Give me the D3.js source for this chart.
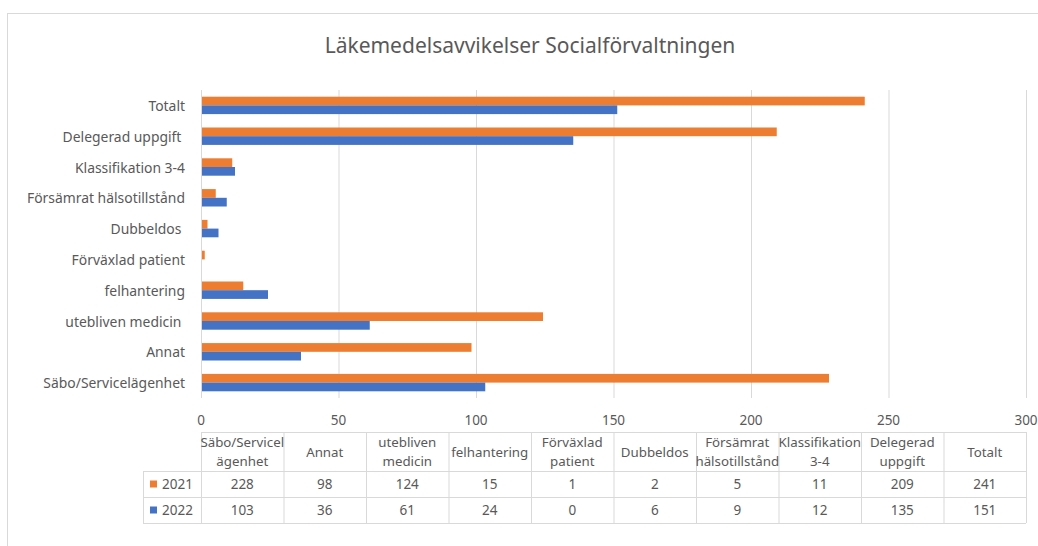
<!DOCTYPE html>
<html>
<head>
<meta charset="utf-8">
<script src="https://cdn.jsdelivr.net/npm/d3@7"></script>
<style>
  body { margin: 0; background: #fff; }
  text { font-family: "Noto Sans", sans-serif; fill: #595959; }
</style>
</head>
<body>
<svg width="1038" height="546"></svg>
<script>
const categories = ['Säbo/Servicelägenhet', 'Annat', 'utebliven medicin ', 'felhantering', 'Förväxlad patient',
  'Dubbeldos ', 'Försämrat hälsotillstånd', 'Klassifikation 3-4', 'Delegerad uppgift ', 'Totalt'];
const headerLines = [['Säbo/Servicel', 'ägenhet'], ['Annat'], ['utebliven', 'medicin'], ['felhantering'],
  ['Förväxlad', 'patient'], ['Dubbeldos'], ['Försämrat', 'hälsotillstånd'], ['Klassifikation', '3-4'],
  ['Delegerad', 'uppgift'], ['Totalt']];
const years = ['2021', '2022'];
const values2021 = [228, 98, 124, 15, 1, 2, 5, 11, 209, 241];
const values2022 = [103, 36, 61, 24, 0, 6, 9, 12, 135, 151];
const xTicks = [0, 50, 100, 150, 200, 250, 300];
const colors = { '2021': '#ED7D31', '2022': '#4472C4' };

const series = [
  { year: '2021', values: values2021 },
  { year: '2022', values: values2022 }
];

const svg = d3.select('svg');
const gridColor = '#d9d9d9';

// chart frame
svg.append('rect')
  .attr('x', 7.5).attr('y', 13.5)
  .attr('width', 1100).attr('height', 600)
  .attr('fill', 'none').attr('stroke', gridColor);

svg.append('text')
  .attr('x', 530).attr('y', 45)
  .attr('text-anchor', 'middle').attr('dominant-baseline', 'central')
  .attr('font-size', 21)
  .text('Läkemedelsavvikelser Socialförvaltningen');

const x = d3.scaleLinear().domain([0, 300]).range([201, 1026]);
const y = d3.scaleBand().domain(categories.slice().reverse()).range([90, 398]);
const ySub = d3.scaleBand().domain(years).range([0, y.bandwidth()]).paddingOuter(0.77);

// gridlines
svg.append('g')
  .selectAll('line')
  .data(xTicks)
  .join('line')
  .attr('x1', d => x(d) + 0.5).attr('x2', d => x(d) + 0.5)
  .attr('y1', 90).attr('y2', 398)
  .attr('stroke', gridColor);

// tick labels
svg.append('g')
  .selectAll('text')
  .data(xTicks)
  .join('text')
  .attr('x', d => x(d)).attr('y', 420)
  .attr('text-anchor', 'middle').attr('dominant-baseline', 'central')
  .attr('font-size', 13.5)
  .text(d => d);

// category labels
svg.append('g')
  .selectAll('text')
  .data(categories)
  .join('text')
  .attr('x', 185).attr('y', d => y(d) + y.bandwidth() / 2)
  .attr('text-anchor', 'end').attr('dominant-baseline', 'central')
  .attr('font-size', 13.9)
  .style('white-space', 'pre')
  .text(d => d);

// bars
series.forEach(s => {
  svg.append('g')
    .selectAll('rect')
    .data(s.values)
    .join('rect')
    .attr('x', x(0) + 1)
    .attr('y', (d, i) => y(categories[i]) + ySub(s.year))
    .attr('width', d => x(d) - x(0))
    .attr('height', ySub.bandwidth())
    .attr('fill', colors[s.year]);
});

// data table
const col = d3.scaleBand().domain(categories).range([201, 1026]);
const tTop = 432, headBottom = 471, rowH = 26;
const legendLeft = 143;
const table = svg.append('g');

const hLines = [
  { y: tTop, x1: 201 },
  { y: headBottom, x1: legendLeft },
  { y: headBottom + rowH, x1: legendLeft },
  { y: headBottom + 2 * rowH, x1: legendLeft }
];
table.selectAll('line.h')
  .data(hLines)
  .join('line')
  .attr('x1', d => d.x1).attr('x2', 1026)
  .attr('y1', d => d.y + 0.5).attr('y2', d => d.y + 0.5)
  .attr('stroke', gridColor);

table.selectAll('line.v')
  .data(categories.concat(['end']))
  .join('line')
  .attr('x1', (d, i) => (i < categories.length ? col(d) : 1026) + 0.5)
  .attr('x2', (d, i) => (i < categories.length ? col(d) : 1026) + 0.5)
  .attr('y1', tTop).attr('y2', headBottom + 2 * rowH)
  .attr('stroke', gridColor);

table.append('line')
  .attr('x1', legendLeft + 0.5).attr('x2', legendLeft + 0.5)
  .attr('y1', headBottom).attr('y2', headBottom + 2 * rowH)
  .attr('stroke', gridColor);

// header texts
categories.forEach((c, i) => {
  const lines = headerLines[i];
  const cx = col(c) + col.bandwidth() / 2;
  const mid = (tTop + headBottom) / 2;
  lines.forEach((ln, j) => {
    table.append('text')
      .attr('x', cx)
      .attr('y', mid + (j - (lines.length - 1) / 2) * 19)
      .attr('text-anchor', 'middle').attr('dominant-baseline', 'central')
      .attr('font-size', 13.3)
      .text(ln);
  });
});

// value rows
series.forEach((s, r) => {
  const cy = headBottom + rowH * r + rowH / 2;
  table.append('rect')
    .attr('x', 150).attr('y', cy - 3.5)
    .attr('width', 7).attr('height', 7)
    .attr('fill', colors[s.year]);
  table.append('text')
    .attr('x', 162).attr('y', cy)
    .attr('dominant-baseline', 'central')
    .attr('font-size', 13.5)
    .text(s.year);
  table.selectAll(null)
    .data(s.values)
    .join('text')
    .attr('x', (d, i) => col(categories[i]) + col.bandwidth() / 2)
    .attr('y', cy)
    .attr('text-anchor', 'middle').attr('dominant-baseline', 'central')
    .attr('font-size', 13.5)
    .text(d => d);
});
</script>
</body>
</html>
